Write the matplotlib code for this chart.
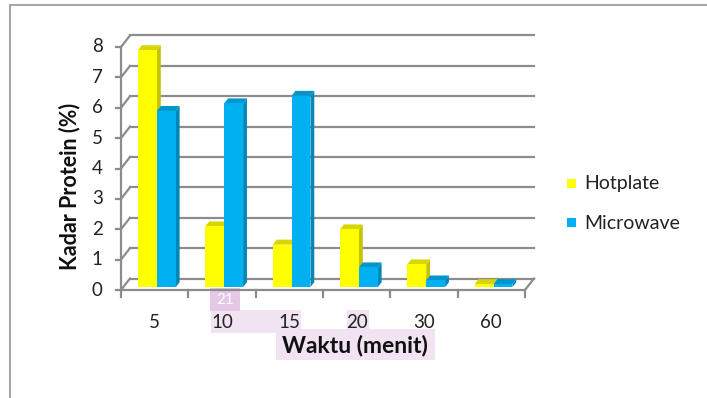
import matplotlib.pyplot as plt
from matplotlib.patches import Polygon, Rectangle
from matplotlib.transforms import ScaledTranslation

plt.rcParams['font.family'] = ['Lato', 'DejaVu Sans']

# data
waktu = ['5', '10', '15', '20', '30', '60']
hotplate = [7.8, 2.0, 1.4, 1.9, 0.75, 0.1]
microwave = [5.8, 6.05, 6.3, 0.65, 0.22, 0.1]
series_names = ['Hotplate', 'Microwave']
y_ticks = [0, 1, 2, 3, 4, 5, 6, 7, 8]

W, H = 707, 398
# face colours (front, side, top)
colors = {
    'Hotplate': ('#ffff00', '#c4c400', '#d6d600'),
    'Microwave': ('#00b0f0', '#0088bb', '#0096cc'),
}
grid_c = '#8c8c8c'

# pixel layout of the plot floor / wall
px_x0, px_unit_x = 121, 67.33
px_y0, px_unit_y = 290, 30.375
DX, DY = 9 / px_unit_x, 11.5 / px_unit_y   # oblique depth offset in data units
F0, F1 = 0.25, 0.68                         # bar depth (front, back) as fraction
BW = 0.28                                   # bar width per series

fig = plt.figure(figsize=(W / 100, H / 100), dpi=100)
ax = fig.add_axes([0, 0, 1, 1])
ax.set_xlim(-px_x0 / px_unit_x, (W - px_x0) / px_unit_x)
ax.set_ylim((px_y0 - H) / px_unit_y, px_y0 / px_unit_y)
ax.axis('off')

n = len(waktu)
lw = 1.6


def fx(px):
    return px / W


def fy(py):
    return 1 - py / H


def fig_rect(x0, y0, x1, y1, color, z):
    # rectangle given in pixel coords (top-left origin)
    ax.add_patch(Rectangle((fx(x0), fy(y1)), fx(x1) - fx(x0), fy(y0) - fy(y1),
                           transform=fig.transFigure, fc=color, ec='none', zorder=z))


# pink highlight annotations (behind the labels)
fig_rect(276, 329, 435, 360, '#f1e3f1', 0.5)
fig_rect(211, 310, 301, 333, '#f1e3f1', 0.5)
fig_rect(347, 310, 369, 333, '#f1e3f1', 0.5)
fig_rect(210, 288, 240, 311, '#e4c8e4', 0.6)
fig.text(fx(225), fy(300), '21', color='white', fontsize=11, ha='center', va='center')

# back wall gridlines + left wall diagonals + front ticks
for v in y_ticks:
    ax.plot([DX, n + DX], [v + DY, v + DY], color=grid_c, lw=lw, zorder=1)
    ax.plot([0, DX], [v, v + DY], color=grid_c, lw=lw, zorder=1)
    ax.plot([-0.07, 0], [v, v], color=grid_c, lw=lw, zorder=1)
ax.plot([0, 0], [0, max(y_ticks)], color=grid_c, lw=lw, zorder=1)

# floor
ax.plot([0, n], [0, 0], color=grid_c, lw=lw, zorder=1)
ax.plot([n, n + DX], [0, DY], color=grid_c, lw=lw, zorder=1)
for i in range(n + 1):
    ax.plot([i, i], [0, -0.22], color=grid_c, lw=lw, zorder=1)


def draw_bar(x0, v, cols):
    xf0, yf = x0 + F0 * DX, F0 * DY
    xb0, yb = x0 + F1 * DX, F1 * DY
    xf1, xb1 = xf0 + BW, xb0 + BW
    front, side, top = cols
    ax.add_patch(Polygon([(xf1, yf), (xb1, yb), (xb1, v + yb), (xf1, v + yf)],
                         closed=True, fc=side, ec='none', zorder=3))
    ax.add_patch(Polygon([(xf0, v + yf), (xf1, v + yf), (xb1, v + yb), (xb0, v + yb)],
                         closed=True, fc=top, ec='none', zorder=3))
    ax.add_patch(Rectangle((xf0, yf), BW, v, fc=front, ec='none', zorder=3))


for i in range(n):
    for s, (name, vals) in enumerate(zip(series_names, [hotplate, microwave])):
        x0 = i + 0.5 - BW + s * BW
        draw_bar(x0, vals[i], colors[name])

# tick labels
for v in y_ticks:
    ax.text(-0.27, v, str(v), ha='right', va='center', fontsize=13.5, color='#222222', zorder=5)
below = ax.transData + ScaledTranslation(0, -0.33, fig.dpi_scale_trans)
for i, lab in enumerate(waktu):
    ax.text(i + 0.5, 0, lab, ha='center', va='center', fontsize=13.5, color='#222222',
            transform=below, zorder=5)

# axis titles
ax.text(fx(355), fy(346), 'Waktu (menit)', ha='center', va='center', fontsize=16.5,
        fontweight='bold', color='#111111', transform=fig.transFigure, zorder=5)
ax.text(fx(70), fy(186), 'Kadar Protein (%)', ha='center', va='center', fontsize=15.5,
        fontweight='bold', rotation=90, color='#111111', transform=fig.transFigure, zorder=5)

# legend
for k, name in enumerate(series_names):
    yc = 183 + k * 39
    fig_rect(567, yc - 4, 576, yc + 5, colors[name][0], 5)
    ax.text(fx(584), fy(yc + 1), name, ha='left', va='center', fontsize=14, color='#222222',
            transform=fig.transFigure, zorder=5)

# outer frame
fig.add_artist(plt.Line2D([fx(10), fx(10)], [fy(5), 0], transform=fig.transFigure,
                          color='#a6a6a6', lw=1.5))
fig.add_artist(plt.Line2D([fx(10), 1], [fy(5), fy(5)], transform=fig.transFigure,
                          color='#a6a6a6', lw=1.5))

fig.savefig('out.png', dpi=100)
